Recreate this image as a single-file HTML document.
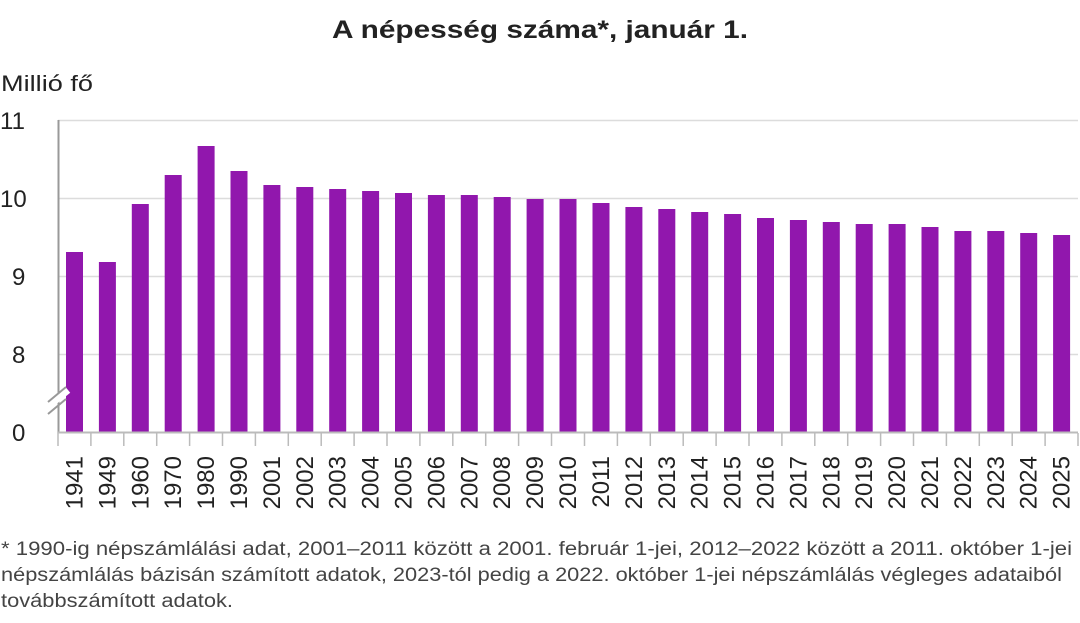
<!DOCTYPE html>
<html><head><meta charset="utf-8"><style>
body{margin:0;background:#fff;}
svg{display:block;font-family:"Liberation Sans",Arial,sans-serif;}
</style></head><body>
<svg width="1080" height="623" xmlns="http://www.w3.org/2000/svg">
<text x="332" y="38" font-size="25" font-weight="bold" fill="#222" textLength="416" lengthAdjust="spacingAndGlyphs">A népesség száma*, január 1.</text>
<text x="1" y="91" font-size="22" fill="#222" textLength="92" lengthAdjust="spacingAndGlyphs">Millió fő</text>
<g stroke="#dcdcdc" stroke-width="1.5">
<line x1="58" y1="120.5" x2="1078" y2="120.5"/>
<line x1="58" y1="198.5" x2="1078" y2="198.5"/>
<line x1="58" y1="276.5" x2="1078" y2="276.5"/>
<line x1="58" y1="354.5" x2="1078" y2="354.5"/>
</g>
<g font-size="24" fill="#222">
<text x="0" y="129">11</text><text x="0" y="207">10</text><text x="12" y="285">9</text><text x="12" y="363">8</text><text x="12" y="441">0</text>
</g>
<g fill="#9117ad">
<rect x="66" y="252" width="17" height="180"/>
<rect x="98.9" y="262" width="17" height="170"/>
<rect x="131.8" y="204" width="17" height="228"/>
<rect x="164.7" y="175" width="17" height="257"/>
<rect x="197.6" y="146" width="17" height="286"/>
<rect x="230.5" y="171" width="17" height="261"/>
<rect x="263.4" y="185" width="17" height="247"/>
<rect x="296.3" y="187" width="17" height="245"/>
<rect x="329.2" y="189" width="17" height="243"/>
<rect x="362.1" y="191" width="17" height="241"/>
<rect x="395.0" y="193" width="17" height="239"/>
<rect x="427.9" y="195" width="17" height="237"/>
<rect x="460.8" y="195" width="17" height="237"/>
<rect x="493.7" y="197" width="17" height="235"/>
<rect x="526.6" y="199" width="17" height="233"/>
<rect x="559.5" y="199" width="17" height="233"/>
<rect x="592.5" y="203" width="17" height="229"/>
<rect x="625.4" y="207" width="17" height="225"/>
<rect x="658.3" y="209" width="17" height="223"/>
<rect x="691.2" y="212" width="17" height="220"/>
<rect x="724.1" y="214" width="17" height="218"/>
<rect x="757.0" y="218" width="17" height="214"/>
<rect x="789.9" y="220" width="17" height="212"/>
<rect x="822.8" y="222" width="17" height="210"/>
<rect x="855.7" y="224" width="17" height="208"/>
<rect x="888.6" y="224" width="17" height="208"/>
<rect x="921.5" y="227" width="17" height="205"/>
<rect x="954.4" y="231" width="17" height="201"/>
<rect x="987.3" y="231" width="17" height="201"/>
<rect x="1020.2" y="233" width="17" height="199"/>
<rect x="1053.1" y="235" width="17" height="197"/>
</g>
<line x1="58.5" y1="120" x2="58.5" y2="433" stroke="#999" stroke-width="2"/>
<line x1="58" y1="432.5" x2="1078" y2="432.5" stroke="#bbb" stroke-width="2"/>
<g stroke="#fff" stroke-width="7"><line x1="46" y1="408" x2="68" y2="390"/></g>
<g stroke="#999" stroke-width="2"><line x1="48" y1="402" x2="66" y2="387"/><line x1="48" y1="414" x2="66" y2="399"/></g>
<g stroke="#bbb" stroke-width="1.5">
<line x1="58" y1="433" x2="58" y2="446"/><line x1="90.9" y1="433" x2="90.9" y2="446"/><line x1="123.8" y1="433" x2="123.8" y2="446"/><line x1="156.7" y1="433" x2="156.7" y2="446"/><line x1="189.6" y1="433" x2="189.6" y2="446"/><line x1="222.5" y1="433" x2="222.5" y2="446"/><line x1="255.4" y1="433" x2="255.4" y2="446"/><line x1="288.3" y1="433" x2="288.3" y2="446"/><line x1="321.2" y1="433" x2="321.2" y2="446"/><line x1="354.1" y1="433" x2="354.1" y2="446"/><line x1="387" y1="433" x2="387" y2="446"/><line x1="419.9" y1="433" x2="419.9" y2="446"/><line x1="452.8" y1="433" x2="452.8" y2="446"/><line x1="485.7" y1="433" x2="485.7" y2="446"/><line x1="518.6" y1="433" x2="518.6" y2="446"/><line x1="551.5" y1="433" x2="551.5" y2="446"/><line x1="584.5" y1="433" x2="584.5" y2="446"/><line x1="617.4" y1="433" x2="617.4" y2="446"/><line x1="650.3" y1="433" x2="650.3" y2="446"/><line x1="683.2" y1="433" x2="683.2" y2="446"/><line x1="716.1" y1="433" x2="716.1" y2="446"/><line x1="749" y1="433" x2="749" y2="446"/><line x1="781.9" y1="433" x2="781.9" y2="446"/><line x1="814.8" y1="433" x2="814.8" y2="446"/><line x1="847.7" y1="433" x2="847.7" y2="446"/><line x1="880.6" y1="433" x2="880.6" y2="446"/><line x1="913.5" y1="433" x2="913.5" y2="446"/><line x1="946.4" y1="433" x2="946.4" y2="446"/><line x1="979.3" y1="433" x2="979.3" y2="446"/><line x1="1012.2" y1="433" x2="1012.2" y2="446"/><line x1="1045.1" y1="433" x2="1045.1" y2="446"/><line x1="1078" y1="433" x2="1078" y2="446"/>
</g>
<g font-size="24" fill="#222" text-anchor="end">
<text transform="translate(82.5,456) rotate(-90)">1941</text>
<text transform="translate(115.4,456) rotate(-90)">1949</text>
<text transform="translate(148.3,456) rotate(-90)">1960</text>
<text transform="translate(181.2,456) rotate(-90)">1970</text>
<text transform="translate(214.1,456) rotate(-90)">1980</text>
<text transform="translate(247,456) rotate(-90)">1990</text>
<text transform="translate(279.9,456) rotate(-90)">2001</text>
<text transform="translate(312.8,456) rotate(-90)">2002</text>
<text transform="translate(345.7,456) rotate(-90)">2003</text>
<text transform="translate(378.6,456) rotate(-90)">2004</text>
<text transform="translate(411.5,456) rotate(-90)">2005</text>
<text transform="translate(444.4,456) rotate(-90)">2006</text>
<text transform="translate(477.3,456) rotate(-90)">2007</text>
<text transform="translate(510.2,456) rotate(-90)">2008</text>
<text transform="translate(543.1,456) rotate(-90)">2009</text>
<text transform="translate(576,456) rotate(-90)">2010</text>
<text transform="translate(609,456) rotate(-90)">2011</text>
<text transform="translate(641.9,456) rotate(-90)">2012</text>
<text transform="translate(674.8,456) rotate(-90)">2013</text>
<text transform="translate(707.7,456) rotate(-90)">2014</text>
<text transform="translate(740.6,456) rotate(-90)">2015</text>
<text transform="translate(773.5,456) rotate(-90)">2016</text>
<text transform="translate(806.4,456) rotate(-90)">2017</text>
<text transform="translate(839.3,456) rotate(-90)">2018</text>
<text transform="translate(872.2,456) rotate(-90)">2019</text>
<text transform="translate(905.1,456) rotate(-90)">2020</text>
<text transform="translate(938,456) rotate(-90)">2021</text>
<text transform="translate(970.9,456) rotate(-90)">2022</text>
<text transform="translate(1003.8,456) rotate(-90)">2023</text>
<text transform="translate(1036.7,456) rotate(-90)">2024</text>
<text transform="translate(1069.6,456) rotate(-90)">2025</text>
</g>
<g font-size="19" fill="#444">
<text x="1" y="555" textLength="1071" lengthAdjust="spacingAndGlyphs">* 1990-ig népszámlálási adat, 2001–2011 között a 2001. február 1-jei, 2012–2022 között a 2011. október 1-jei</text>
<text x="1" y="581" textLength="1061" lengthAdjust="spacingAndGlyphs">népszámlálás bázisán számított adatok, 2023-tól pedig a 2022. október 1-jei népszámlálás végleges adataiból</text>
<text x="1" y="607" textLength="232" lengthAdjust="spacingAndGlyphs">továbbszámított adatok.</text>
</g>
</svg>
</body></html>
